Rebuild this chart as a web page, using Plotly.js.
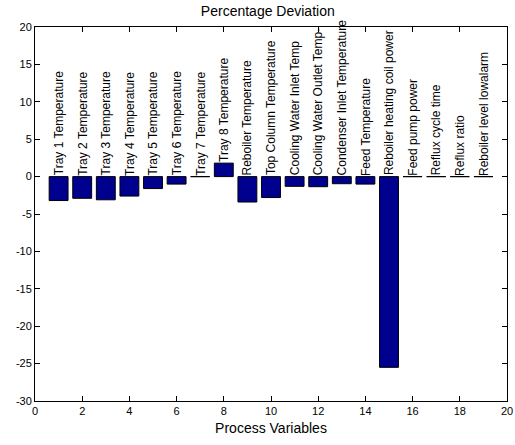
<!DOCTYPE html>
<html>
<head>
<meta charset="utf-8">
<script src="https://cdn.plot.ly/plotly-3.0.1.min.js"></script>
<style>html,body{margin:0;padding:0;background:#fff;}#chart{width:515px;height:445px;}</style>
</head>
<body>
<div id="chart"></div>
<script>
var variableIndex = [1,2,3,4,5,6,7,8,9,10,11,12,13,14,15,16,17,18,19];
var variableNames = [
  "Tray 1 Temperature","Tray 2 Temperature","Tray 3 Temperature","Tray 4 Temperature",
  "Tray 5 Temperature","Tray 6 Temperature","Tray 7 Temperature","Tray 8 Temperature",
  "Reboiler Temperature","Top Column Temperature","Cooling Water Inlet Temp",
  "Cooling Water Outlet Temp-","Condenser Inlet Temperature","Feed Temperature",
  "Reboiler heating coil power","Feed pump power","Reflux cycle time","Reflux ratio",
  "Reboiler level lowalarm"
];
var percentDeviation = [-3.2,-2.9,-3.1,-2.6,-1.6,-1.0,0,1.8,-3.4,-2.8,-1.3,-1.35,-0.95,-1.0,-25.5,0,0,0,0];
var xTicks = [0,2,4,6,8,10,12,14,16,18,20];
var yTicks = [-30,-25,-20,-15,-10,-5,0,5,10,15,20];

var barWidth = 0.8;
var fnt = "Arial, 'Liberation Sans', Helvetica, sans-serif";

// zero-height bars are drawn as flat edge lines
var zx = [], zy = [];
variableIndex.forEach(function(x, i){
  if (percentDeviation[i] === 0) {
    zx.push(x - barWidth/2, x + barWidth/2, null);
    zy.push(0, 0, null);
  }
});

var traces = [
  {
    type: 'bar', x: variableIndex, y: percentDeviation, width: barWidth,
    marker: {color: '#00008F', line: {color: '#000000', width: 1}},
    hoverinfo: 'none'
  },
  {
    type: 'scatter', mode: 'lines', x: zx, y: zy,
    line: {color: '#000000', width: 1}, hoverinfo: 'none', cliponaxis: false
  }
];

var annotations = variableIndex.map(function(x, i){
  return {
    x: x, y: Math.max(percentDeviation[i], 0), xref: 'x', yref: 'y',
    text: variableNames[i], showarrow: false, textangle: -90,
    xanchor: 'center', yanchor: 'bottom', borderpad: 0,
    font: {family: fnt, size: 12, color: '#000'}
  };
});

var axisCommon = {
  showgrid: false, zeroline: false, showline: true, linecolor: '#000', linewidth: 1,
  mirror: 'ticks', ticks: 'inside', ticklen: 5, tickcolor: '#000', tickwidth: 1,
  tickfont: {family: fnt, size: 11, color: '#000'}, tickmode: 'array'
};

var layout = {
  width: 515, height: 445,
  margin: {l: 35, r: 8, t: 27, b: 44, pad: 0},
  paper_bgcolor: '#fff', plot_bgcolor: '#fff',
  showlegend: false,
  title: {text: 'Percentage Deviation', font: {family: fnt, size: 14, color: '#000'}, x: 0.52, xanchor: 'center', y: 0.976, yanchor: 'middle'},
  xaxis: Object.assign({}, axisCommon, {
    range: [0, 20], tickvals: xTicks, ticktext: xTicks.map(String),
    title: {text: 'Process Variables', font: {family: fnt, size: 14, color: '#000'}, standoff: 6}
  }),
  yaxis: Object.assign({}, axisCommon, {
    range: [-30, 20], tickvals: yTicks, ticktext: yTicks.map(String)
  }),
  annotations: annotations,
  bargap: 0
};

Plotly.newPlot('chart', traces, layout, {staticPlot: true, displayModeBar: false});
</script>
</body>
</html>
